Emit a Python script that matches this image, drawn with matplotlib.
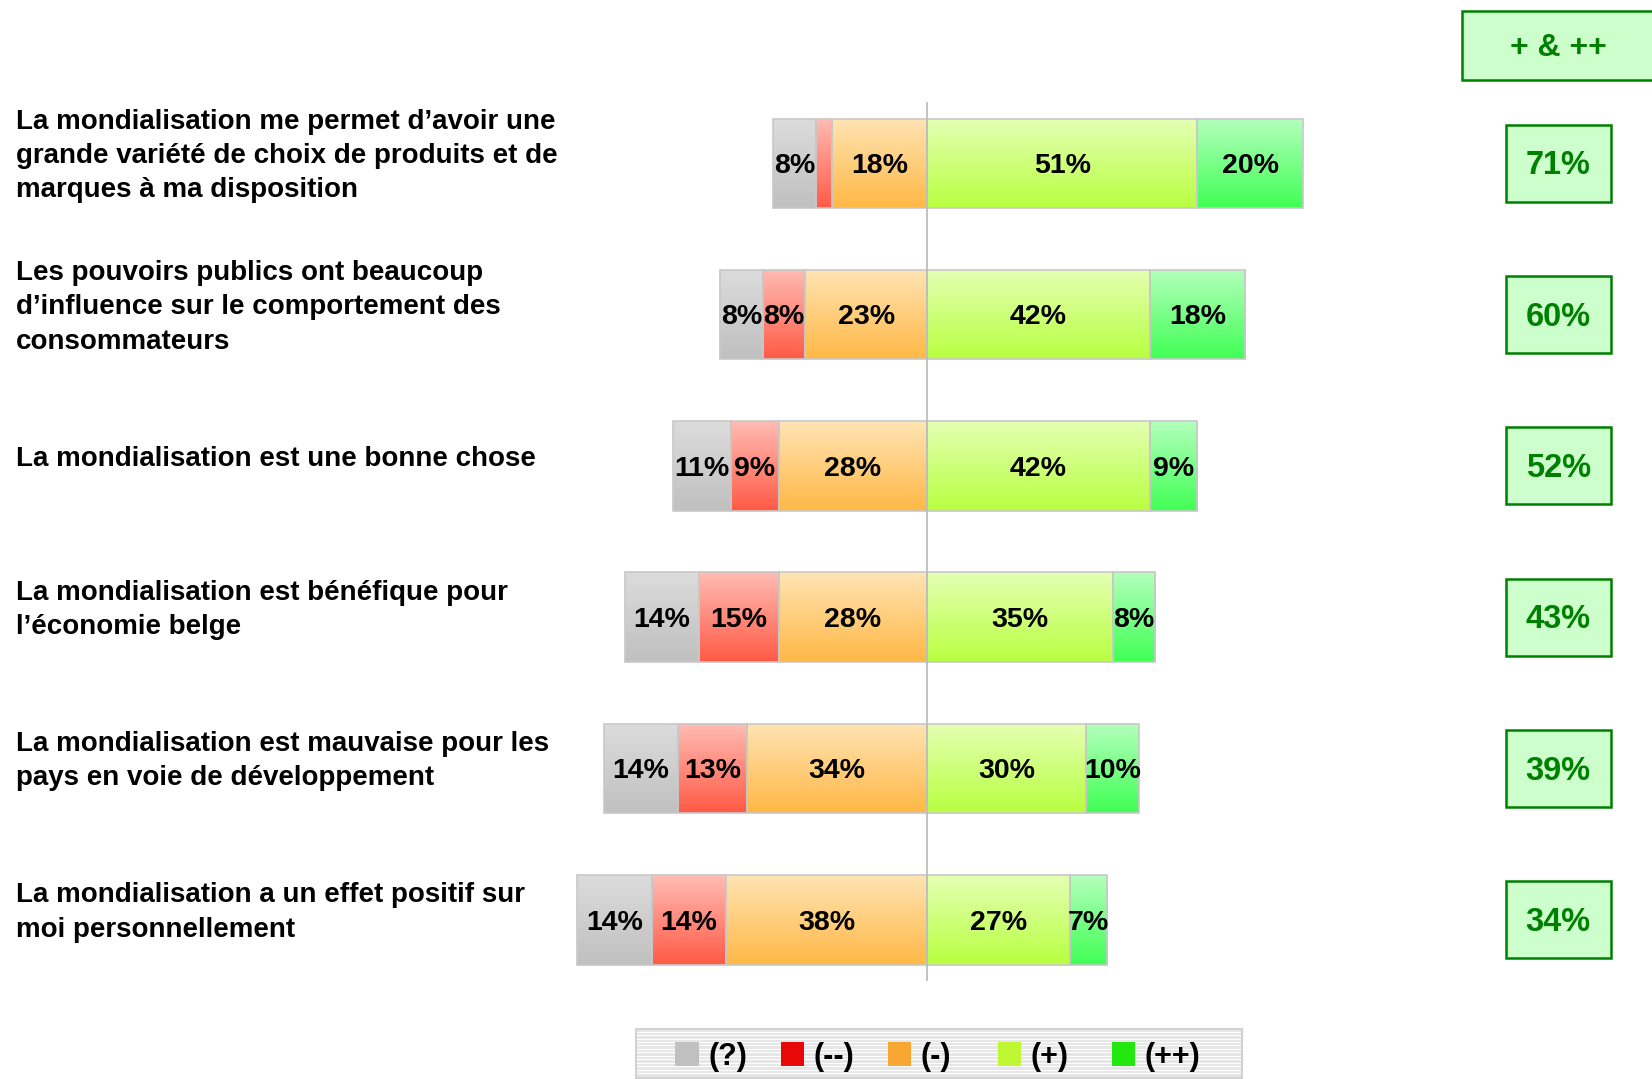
import numpy as np
import matplotlib.pyplot as plt
from matplotlib.colors import LinearSegmentedColormap
from matplotlib.patches import Rectangle

plt.rcParams['font.family'] = ['Liberation Sans', 'DejaVu Sans']
plt.rcParams['font.weight'] = 'bold'

enonces = [
    "La mondialisation me permet d\u2019avoir une\ngrande vari\u00e9t\u00e9 de choix de produits et de\nmarques \u00e0 ma disposition",
    "Les pouvoirs publics ont beaucoup\nd\u2019influence sur le comportement des\nconsommateurs",
    "La mondialisation est une bonne chose",
    "La mondialisation est b\u00e9n\u00e9fique pour\nl\u2019\u00e9conomie belge",
    "La mondialisation est mauvaise pour les\npays en voie de d\u00e9veloppement",
    "La mondialisation a un effet positif sur\nmoi personnellement",
]
sans_avis = [8, 8, 11, 14, 14, 14]    # (?)
tres_neg = [3, 8, 9, 15, 13, 14]      # (--)
neg = [18, 23, 28, 28, 34, 38]        # (-)
pos = [51, 42, 42, 35, 30, 27]        # (+)
tres_pos = [20, 18, 9, 8, 10, 7]      # (++)
total_pos = [71, 60, 52, 43, 39, 34]  # + & ++
legende = ['(?)', '(--)', '(-)', '(+)', '(++)']

# degradés haut -> bas de chaque catégorie, puis couleur pleine de la légende
degrades = [('#dcdcdc', '#c0c0c0'),
            ('#ffbcb4', '#ff5a45'),
            ('#ffe4b4', '#ffb845'),
            ('#e4ffb4', '#b8ff40'),
            ('#b4ffbc', '#40ff55')]
pleines = ['#c0c0c0', '#e80808', '#f8a832', '#bff832', '#22e810']
VERT = '#008000'

W, H = 1568, 1024          # grille de mise en page (pixels)
px = 5.03                  # pixels par point de %
cx = 880                   # position de l'axe central
y0, dy = 155, 143.6        # centre de la 1re barre, pas entre barres
h = 85 / dy

fig = plt.figure(figsize=(16.52, 10.79), dpi=100)
ax = fig.add_axes([0, 0, 1, 1])
ax.axis('off')

y = np.arange(len(enonces))
neg_a = np.array(neg)
tn_a = np.array(tres_neg)
sa_a = np.array(sans_avis)
pos_a = np.array(pos)

series = [
    (sans_avis, -(neg_a + tn_a + sa_a)),
    (tres_neg, -(neg_a + tn_a)),
    (neg, -neg_a),
    (pos, np.zeros(len(y))),
    (tres_pos, pos_a),
]

grad = np.linspace(0, 1, 256).reshape(-1, 1)
for (vals, left), (c_haut, c_bas) in zip(series, degrades):
    cmap = LinearSegmentedColormap.from_list('g', [c_haut, c_bas])
    bars = ax.barh(y, vals, left=left, height=h, color='none',
                   edgecolor='#c8c8c8', linewidth=1.2, zorder=4)
    for b, v, l, yi in zip(bars, vals, left, y):
        im = ax.imshow(grad, cmap=cmap, aspect='auto', zorder=3,
                       extent=[l, l + v, yi + h / 2, yi - h / 2])
        im.set_clip_path(b)
        if v >= 5:
            ax.text(l + v / 2, yi + 2.5 / dy, f'{v}%', ha='center',
                    va='center', fontsize=20.5, fontweight='bold', zorder=5)

ax.plot([0, 0], [(98 - y0) / dy, (930 - y0) / dy], color='#bdbdbd',
        lw=1.3, zorder=6)

ax.set_xlim(-cx / px, (W - cx) / px)
ax.set_ylim((H - y0) / dy, -y0 / dy)

# libellés des énoncés
for yi, txt in zip(y, enonces):
    yc = y0 + yi * dy - 7
    fig.text(15 / W, 1 - yc / H, txt, ha='left', va='center',
             fontsize=20, fontweight='bold', linespacing=1.42)


def boite(x, yt, w, hh):
    fig.add_artist(Rectangle((x / W, 1 - (yt + hh) / H), w / W, hh / H,
                             transform=fig.transFigure, facecolor='#ccffcc',
                             edgecolor=VERT, linewidth=1.8))


# colonne + & ++
boite(1388, 10, 200, 66)
fig.text(1479 / W, 1 - 46 / H, '+ & ++', ha='center', va='center',
         fontsize=23, fontweight='bold', color=VERT)
for yi, t in zip(y, total_pos):
    yc = y0 + yi * dy
    boite(1429, yc - 36.5, 100, 73)
    fig.text(1479 / W, 1 - (yc + 2.5) / H, f'{t}%', ha='center',
             va='center', fontsize=23.5, fontweight='bold', color=VERT)

# légende
lx0, lx1, ly0, ly1 = 604, 1179, 977, 1023
fig.add_artist(Rectangle((lx0 / W, 1 - ly1 / H), (lx1 - lx0) / W,
                         (ly1 - ly0) / H, transform=fig.transFigure,
                         facecolor='#e6e6e6', edgecolor='none', zorder=1))
for ys in np.arange(ly0 + 2, ly1, 3.3):
    fig.add_artist(plt.Line2D([(lx0 + 1) / W, (lx1 - 1) / W],
                              [1 - ys / H, 1 - ys / H], color='white',
                              lw=0.8, transform=fig.transFigure, zorder=2))
fig.add_artist(Rectangle((lx0 / W, 1 - ly1 / H), (lx1 - lx0) / W,
                         (ly1 - ly0) / H, transform=fig.transFigure,
                         facecolor='none', edgecolor='#d2d2d2', lw=1.5,
                         zorder=3))
carres_x = [641, 741, 843, 947, 1055]
for xs, c, lab in zip(carres_x, pleines, legende):
    fig.add_artist(Rectangle((xs / W, 1 - 1012 / H), 22 / W, 23 / H,
                             transform=fig.transFigure, facecolor=c,
                             edgecolor='none', zorder=4))
    fig.text((xs + 31) / W, 1 - 1003 / H, lab, ha='left', va='center',
             fontsize=22, fontweight='bold', zorder=5)

fig.savefig('out.png', dpi=100)
